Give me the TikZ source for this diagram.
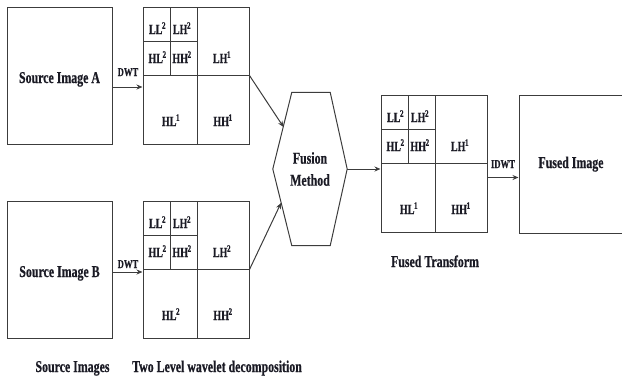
\documentclass[tikz,border=0pt]{standalone}
\usepackage{fontspec}
\newfontfamily\tnr[FakeStretch=0.72,FakeBold=0.6]{Liberation Serif}
\usetikzlibrary{arrows.meta}
\definecolor{ln}{HTML}{3C3C3C}
\definecolor{ink}{HTML}{1A1A24}

\tikzset{
  frame/.style={draw=ln, line width=1pt, inner sep=0pt},
  grid/.style={draw=ln, line width=1pt},
  arr/.style={draw=ln, line width=1pt, -{Stealth[length=6pt,width=5pt]}},
  txt/.style={text=ink, inner sep=0pt, anchor=base, font=\tnr\bfseries\fontsize{16.5}{22}\selectfont},
  band/.style={text=ink, inner sep=0pt, anchor=base, font=\tnr\bfseries\fontsize{14}{16}\selectfont},
  tag/.style={text=ink, inner sep=0pt, anchor=base, font=\tnr\bfseries\fontsize{12}{14}\selectfont},
}

% superscript set close to its letters
\newcommand\lvl[1]{\kern-0.4pt\textsuperscript{#1}}

% two-level subband layout: name, left x, top y, superscript of the level-one bands
\newcommand\subbands[4]{%
  \node[frame, minimum width=106pt, minimum height=137pt] (#1) at (#2+53,#3+68.5) {};
  \draw[grid] (#2,#3+68) -- (#2+106,#3+68);
  \draw[grid] (#2+54,#3) -- (#2+54,#3+137);
  \draw[grid] (#2+27,#3) -- (#2+27,#3+68);
  \draw[grid] (#2,#3+34) -- (#2+54,#3+34);
  \node[band] (#1-ll2) at (#2+14.5,#3+27) {LL\lvl{2}};
  \node[band] (#1-lh2) at (#2+39,#3+27) {LH\lvl{2}};
  \node[band] (#1-hl2) at (#2+14.5,#3+56) {HL\lvl{2}};
  \node[band] (#1-hh2) at (#2+39,#3+56) {HH\lvl{2}};
  \node[band] (#1-lh1) at (#2+79,#3+56) {LH\lvl{#4}};
  \node[band] (#1-hl1) at (#2+28,#3+119) {HL\lvl{#4}};
  \node[band] (#1-hh1) at (#2+80,#3+119) {HH\lvl{#4}};
}

\begin{document}
\begin{tikzpicture}[x=1pt, y=-1pt]
  \useasboundingbox (0,0) rectangle (622,376);

  % source images
  \node[frame, minimum width=105pt, minimum height=137pt] (srcA) at (59.5,75.5) {};
  \node[txt] (srcAt) at (59.5,83) {Source Image A};
  \node[frame, minimum width=105pt, minimum height=137pt] (srcB) at (59.5,269.5) {};
  \node[txt] (srcBt) at (59.5,277) {Source Image B};

  % wavelet decompositions
  \subbands{decA}{143}{7}{1}
  \subbands{decB}{143}{201}{2}
  \subbands{ft}{381}{95}{1}

  % fusion block
  \node[inner sep=0pt, minimum width=74pt, minimum height=153pt, align=center,
        text=ink, font=\tnr\bfseries\fontsize{16.5}{22}\selectfont] (fus) at (310,169) {Fusion\\Method};
  \draw[grid] (fus.west) -- ([xshift=19pt]fus.north west) -- ([xshift=-17pt]fus.north east)
    -- (fus.east) -- ([xshift=-17pt]fus.south east) -- ([xshift=19pt]fus.south west) -- cycle;
  \coordinate (inA) at (283.5,127);
  \coordinate (inB) at (281,203);

  % fused image
  \node[frame, minimum width=107pt, minimum height=138pt] (fimg) at (572.5,164) {};
  \node[txt] (fimgt) at (571,168) {Fused Image};

  % connectors
  \draw[arr] ([yshift=-11.5pt]srcA.east) -- ([yshift=-11.5pt]srcA.east -| decA.west);
  \node[tag] (dwtA) at (128,76) {DWT};
  \draw[arr] ([yshift=-2.5pt]srcB.east) -- ([yshift=-2.5pt]srcB.east -| decB.west);
  \node[tag] (dwtB) at (128,268) {DWT};
  \draw[arr] (decA.east) -- (inA);
  \draw[arr] (decB.east) -- (inB);
  \draw[arr] (fus.east) -- (fus.east -| ft.west);
  \draw[arr] ([yshift=-14pt]ft.east) -- ([yshift=-14pt]ft.east -| fimg.west);
  \node[tag] (idwt) at (503,168) {IDWT};

  % captions
  \node[txt] (capsrc) at (72.5,372) {Source Images};
  \node[txt] (capdec) at (217,372) {Two Level wavelet decomposition};
  \node[txt] (capft) at (435,267) {Fused Transform};
\end{tikzpicture}
\end{document}
